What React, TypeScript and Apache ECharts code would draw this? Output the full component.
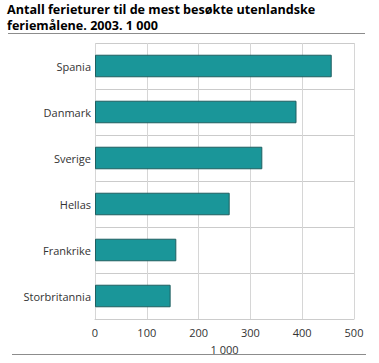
import React, { useEffect, useRef } from "react";
import * as echarts from "echarts";

const categories = ["Spania", "Danmark", "Sverige", "Hellas", "Frankrike", "Storbritannia"];
const values = [457, 389, 323, 260, 157, 146];
const xTicks = [0, 100, 200, 300, 400, 500];
const titleText = "Antall ferieturer til de mest besøkte utenlandske\nferiemålene. 2003. 1 000";
const axisName = "1 000";

export default function App() {
  const ref = useRef<HTMLDivElement>(null);
  useEffect(() => {
    document.body.style.margin = "0";
    const chart = echarts.init(ref.current!, null, { renderer: "svg" });
    const font = "'Open Sans', sans-serif";
    chart.setOption({
      animation: false,
      backgroundColor: "#ffffff",
      title: {
        text: titleText,
        left: 7,
        top: 0,
        padding: [2, 0, 0, 0],
        textStyle: {
          fontFamily: font,
          fontSize: 12.6,
          fontWeight: "bold",
          color: "#000000",
          lineHeight: 15.5,
        },
      },
      graphic: [
        { type: "line", shape: { x1: 8, y1: 33.5, x2: 365, y2: 33.5 }, style: { stroke: "#8c8c8c", lineWidth: 1 } },
        { type: "line", shape: { x1: 12, y1: 354.5, x2: 366, y2: 354.5 }, style: { stroke: "#8c8c8c", lineWidth: 1 } },
      ],
      grid: { left: 95, right: 25, top: 43, bottom: 44, containLabel: false },
      xAxis: {
        type: "value",
        min: xTicks[0],
        max: xTicks[xTicks.length - 1],
        interval: 100,
        name: axisName,
        nameLocation: "middle",
        nameGap: 25,
        nameTextStyle: { fontFamily: font, fontSize: 11, color: "#333333" },
        axisLine: { show: true, lineStyle: { color: "#cccccc" } },
        axisTick: { show: false },
        axisLabel: { fontFamily: font, fontSize: 11, color: "#333333", margin: 8 },
        splitLine: { show: true, lineStyle: { color: "#d6d6d6", width: 1 } },
      },
      yAxis: [
        {
          type: "category",
          data: categories,
          inverse: true,
          axisLine: { show: false },
          axisTick: { show: false },
          axisLabel: { fontFamily: font, fontSize: 11, color: "#333333", margin: 4 },
          splitLine: { show: false },
        },
        {
          type: "value",
          position: "left",
          min: 0,
          max: categories.length,
          interval: 1,
          axisLine: { show: false },
          axisTick: { show: false },
          axisLabel: { show: false },
          splitLine: { show: true, lineStyle: { color: "#cbcbcb", width: 1 } },
        },
      ],
      series: [
        {
          type: "bar",
          yAxisIndex: 0,
          data: values,
          barWidth: "49%",
          itemStyle: { color: "#1a9699", borderColor: "#1f5f60", borderWidth: 1 },
        },
      ],
    });
    return () => chart.dispose();
  }, []);
  return <div ref={ref} style={{ width: 379, height: 363 }} />;
}
